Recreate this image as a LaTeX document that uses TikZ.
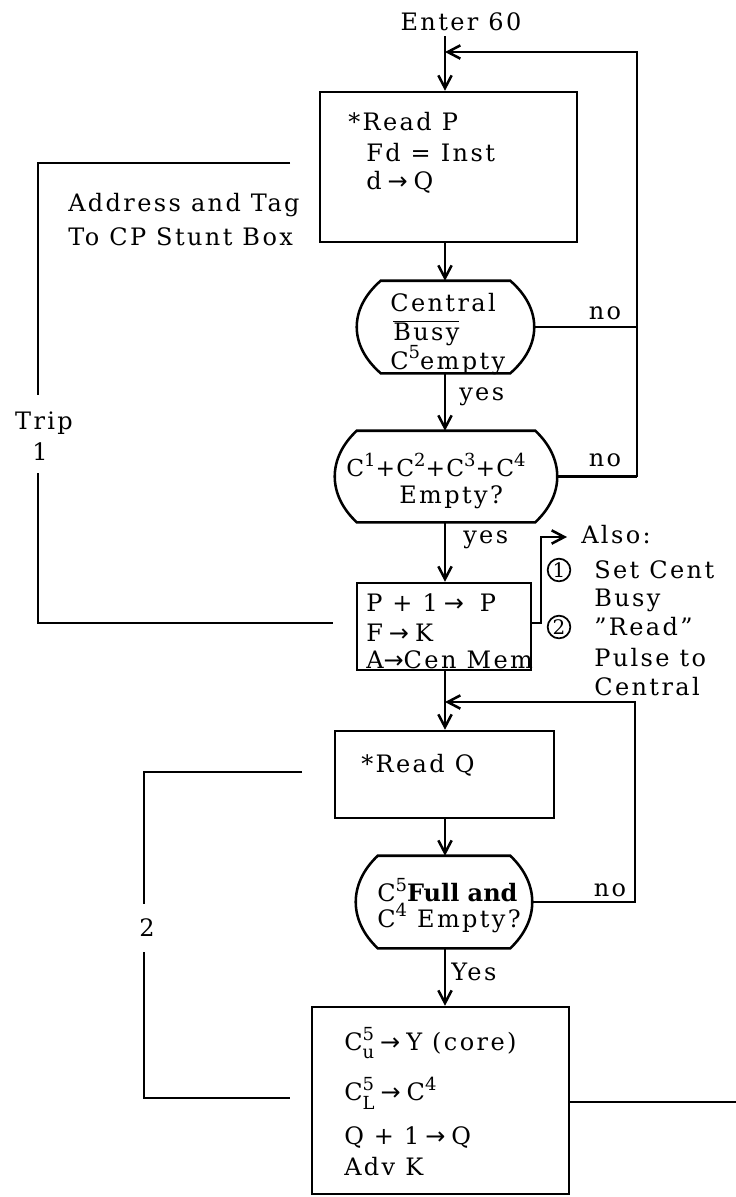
\documentclass[tikz,border=0pt]{standalone}
\usepackage{fontspec}
\setmainfont{DejaVu Serif}[LetterSpace=10]
\newfontfamily\symfont{DejaVu Sans}
\usetikzlibrary{arrows.meta,fit,calc}
\newcommand{\ra}{{\symfont\addfontfeature{LetterSpace=0}\hspace{0.25em}→\hspace{0.25em}}}
\newcommand{\rat}{{\symfont\addfontfeature{LetterSpace=0}→}}
\newcommand{\sps}[1]{\raisebox{0.85ex}{\fontsize{13.5}{13}\selectfont #1}}
\newcommand{\supsub}[2]{\rlap{\raisebox{0.85ex}{\fontsize{13.5}{13}\selectfont #1}}\raisebox{-0.65ex}{\fontsize{13.5}{13}\selectfont #2}}
% decision outline: node name, corner inset a (px)
\newcommand{\decpath}[2]{%
  \draw ([xshift=#2*0.75pt]#1.north west) -- ([xshift=-#2*0.75pt]#1.north east)
    .. controls ([xshift=#2*0.25pt]$(#1.north east)!0.3!(#1.south east)$)
       and ([xshift=#2*0.25pt]$(#1.north east)!0.7!(#1.south east)$) ..
    ([xshift=-#2*0.75pt]#1.south east) -- ([xshift=#2*0.75pt]#1.south west)
    .. controls ([xshift=-#2*0.25pt]$(#1.north west)!0.7!(#1.south west)$)
       and ([xshift=-#2*0.25pt]$(#1.north west)!0.3!(#1.south west)$) ..
    cycle;}
\begin{document}
\begin{tikzpicture}[x=0.75pt,y=-0.75pt,line width=1.9pt,
  txt/.style={inner sep=0pt,font=\fontsize{18}{20}\selectfont},
  lbl/.style={txt,anchor=west},
  box/.style={draw,rectangle,inner sep=0pt},
  frame/.style={rectangle,inner sep=0pt},
  circnum/.style={draw,circle,line width=1.3pt,inner sep=0pt,minimum size=17pt,
    font=\fontsize{15}{15}\selectfont\addfontfeature{LetterSpace=0}},
  arr/.style={-{Straight Barb[length=9.5pt,width=10pt]}}]
\useasboundingbox (0,0) rectangle (736,1197);

% ---- boxes and decisions
\node[box,fit={(320,92)(577,242)}] (b1) {};
\node[frame,fit={(358,282)(533,372)}] (d1) {};
\decpath{d1}{24}
\node[frame,fit={(336,432)(556,521)}] (d2) {};
\decpath{d2}{22}
\node[box,fit={(357,583)(531,670)}] (b3) {};
\node[box,fit={(335,731)(554,818)}] (b4) {};
\node[frame,fit={(357,857)(531,947)}] (d3) {};
\decpath{d3}{22}
\node[box,fit={(312,1007)(569,1194)}] (b5) {};

% ---- texts
\node[txt] (enter) at (461,22) {Enter 60};
\node[lbl] (b1a) at (347,122) {*Read P};
\node[lbl] (b1b) at (365,153) {Fd = Inst};
\node[lbl] (b1c) at (365,182) {d\ra Q};
\node[lbl] (adr1) at (67,205) {Address and Tag};
\node[lbl] (adr2) at (67,237) {To CP Stunt Box};
\node[txt] (trip) at (44,423) {Trip};
\node[txt] (trip1) at (40,452) {1};
\node[lbl] (d1a) at (389,303) {Central};
\node[lbl] (d1b) at (392,333) {$\overline{\hbox{Busy}}$};
\node[lbl] (d1c) at (389,360) {C\sps{5}empty};
\node[txt] (no1) at (605,313) {no};
\node[lbl] (yes1) at (458,397) {yes};
\node[lbl,font=\fontsize{17.5}{20}\selectfont\addfontfeature{LetterSpace=5}] (d2a) at (345,465) {C\sps{1}+C\sps{2}+C\sps{3}+C\sps{4}};
\node[lbl] (d2b) at (398,497) {Empty?};
\node[txt] (no2) at (605,460) {no};
\node[lbl] (yes2) at (462,540) {yes};
\node[lbl] (b3a) at (365,603) {P + 1\ra\ P};
\node[lbl] (b3b) at (365,633) {F\ra K};
\node[lbl] (b3c) at (365,660) {A\rat Cen Mem};
\node[lbl] (also) at (580,535) {Also:};
\node[circnum] (c1) at (559,570) {1};
\node[lbl] (al1) at (593,570) {Set Cent};
\node[lbl] (al2) at (593,600) {Busy};
\node[circnum] (c2) at (559,627) {2};
\node[lbl] (al3) at (593,627) {"Read"};
\node[lbl] (al4) at (593,658) {Pulse to};
\node[lbl] (al5) at (593,687) {Central};
\node[lbl] (b4a) at (360,765) {*Read Q};
\node[txt] (two) at (147,928) {2};
\node[lbl] (d3a) at (376,890) {C\sps{5}{\bfseries\addfontfeature{LetterSpace=0}Full and}};
\node[lbl] (d3b) at (376,918) {C\sps{4} Empty?};
\node[txt] (no3) at (610,890) {no};
\node[lbl] (yes3) at (450,972) {Yes};
\node[lbl] (b5a) at (343,1043) {C\supsub{5}{u}\ra Y (core)};
\node[lbl] (b5b) at (343,1093) {C\supsub{5}{L}\ra C\sps{4}};
\node[lbl] (b5c) at (343,1138) {Q + 1\ra Q};
\node[lbl] (b5d) at (343,1167) {Adv K};

% ---- coordinates
\coordinate (m) at (445,0);
\coordinate (entry) at (445,36);
\coordinate (r1) at (637,52);
\coordinate (r2) at (635,702);
\coordinate (t1) at (290,163);
\coordinate (t2) at (38,163);
\coordinate (t3) at (38,395);
\coordinate (t4) at (38,473);
\coordinate (t5) at (38,623);
\coordinate (t6) at (333,623);
\coordinate (s1) at (302,772);
\coordinate (s2) at (144,772);
\coordinate (s3) at (144,904);
\coordinate (s4) at (144,952);
\coordinate (s5) at (144,1098);
\coordinate (s6) at (290,1098);
\coordinate (alsoend) at (567,537);
\coordinate (alsox) at (541,0);
\coordinate (outR) at (736,0);

% ---- connectors
\draw[arr] (entry) -- (entry |- b1.north);
\draw[arr] (r1 |- d2.east) -- (r1) -- (r1 -| m);
\draw (d1.east) -- (d1.east -| r1);
\draw (d2.east) -- (d2.east -| r1);
\draw[arr] (b1.south -| m) -- (d1.north -| m);
\draw[arr] (d1.south -| m) -- (d2.north -| m);
\draw[arr] (d2.south -| m) -- (b3.north -| m);
\draw[arr] (b3.south -| m) -- (b4.north -| m);
\draw[arr] (d3.east) -- (d3.east -| r2) -- (r2) -- (r2 -| m);
\draw[arr] (b4.south -| m) -- (d3.north -| m);
\draw[arr] (d3.south -| m) -- (b5.north -| m);
\draw[arr] (b3.east |- t6) -- (alsox |- t6) -- (alsox |- alsoend) -- (alsoend);
\draw (b5.east |- 0,1102) -- (outR |- 0,1102);
\draw (t1) -- (t2) -- (t3);
\draw (t4) -- (t5) -- (t6);
\draw (s1) -- (s2) -- (s3);
\draw (s4) -- (s5) -- (s6);
\end{tikzpicture}
\end{document}
